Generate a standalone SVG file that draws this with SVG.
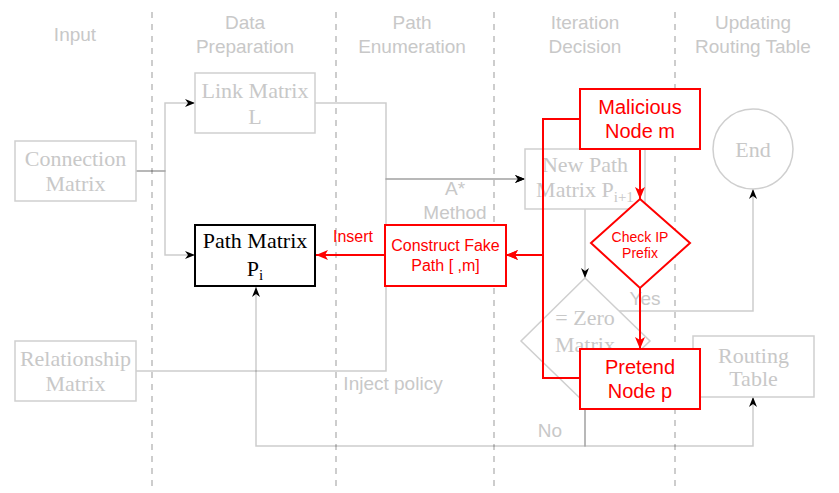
<svg xmlns="http://www.w3.org/2000/svg" width="839" height="493" viewBox="0 0 839 493">
<style>
.lane{stroke:#bdbdbd;stroke-width:1.5;stroke-dasharray:6 6;fill:none}
.hdr{font-family:"Liberation Sans",Arial,sans-serif;font-size:19px;fill:#c8c8c8;text-anchor:middle}
.gbox{fill:#fff;stroke:#cfcfcf;stroke-width:1.5}
.gtxt{font-family:"Liberation Serif","Times New Roman",serif;font-size:22px;fill:#c8c8c8;text-anchor:middle}
.btxt{font-family:"Liberation Serif","Times New Roman",serif;font-size:22px;fill:#000;text-anchor:middle}
.rbox{fill:#fff;stroke:#ff0000;stroke-width:2}
.rtxt{font-family:"Liberation Sans",Arial,sans-serif;fill:#ff0000;text-anchor:middle}
.gedge{fill:none;stroke:#000;stroke-opacity:0.2;stroke-width:1.5}
.redge{fill:none;stroke:#ff0000;stroke-width:2}
.glbl{font-family:"Liberation Sans",Arial,sans-serif;font-size:19px;fill:#c8c8c8;text-anchor:middle}
</style>
<defs>
<marker id="ga" viewBox="0 0 10 8" refX="10" refY="4" markerWidth="10" markerHeight="8" markerUnits="userSpaceOnUse" orient="auto">
<path d="M0,0 L10,4 L0,8 L3,4 z" fill="#000"/>
</marker>
<marker id="ra" viewBox="0 0 12 10" refX="12" refY="5" markerWidth="12" markerHeight="10" markerUnits="userSpaceOnUse" orient="auto">
<path d="M0,0 L12,5 L0,10 L3,5 z" fill="#ff0000"/>
</marker>
</defs>
<rect width="839" height="493" fill="#fff"/>
<g id="lanes">
<line class="lane" x1="152" y1="12" x2="152" y2="486"/>
<line class="lane" x1="336" y1="12" x2="336" y2="486"/>
<line class="lane" x1="494" y1="12" x2="494" y2="486"/>
<line class="lane" x1="675" y1="12" x2="675" y2="486"/>
<text class="hdr" x="75" y="41">Input</text>
<text class="hdr" x="245" y="29">Data</text>
<text class="hdr" x="245" y="53">Preparation</text>
<text class="hdr" x="412" y="29">Path</text>
<text class="hdr" x="412" y="53">Enumeration</text>
<text class="hdr" x="585" y="29">Iteration</text>
<text class="hdr" x="585" y="53">Decision</text>
<text class="hdr" x="753" y="29">Updating</text>
<text class="hdr" x="753" y="53">Routing Table</text>
</g>
<g id="connectors">
<path class="gedge" d="M136,171 H165 V103 H195" marker-end="url(#ga)"/>
<path class="gedge" d="M136,171 H165 V255 H195" marker-end="url(#ga)"/>
<path class="gedge" d="M315,103 H386 V179 H525" marker-end="url(#ga)"/>
<path class="gedge" d="M136,371 H386 V179 H525" marker-end="url(#ga)"/>
<path class="gedge" d="M585,209 V278" marker-end="url(#ga)"/>
<path class="gedge" d="M585,403 V446 H256 V287" marker-end="url(#ga)"/>
<path class="gedge" d="M585,403 V446 H753 V397" marker-end="url(#ga)"/>
<path class="gedge" d="M617,311 H753 V189" marker-end="url(#ga)"/>
<text class="glbl" x="455" y="195">A*</text>
<text class="glbl" x="455" y="219">Method</text>
<text class="glbl" x="393" y="390">Inject policy</text>
<text class="glbl" x="645" y="305">Yes</text>
<text class="glbl" x="550" y="437">No</text>
</g>
<g id="connection-matrix">
<rect class="gbox" x="15" y="141" width="121" height="60"/>
<text class="gtxt" x="75.5" y="166">Connection</text>
<text class="gtxt" x="75.5" y="191">Matrix</text>
</g>
<g id="relationship-matrix">
<rect class="gbox" x="15" y="341" width="121" height="60"/>
<text class="gtxt" x="75.5" y="366">Relationship</text>
<text class="gtxt" x="75.5" y="391">Matrix</text>
</g>
<g id="link-matrix">
<rect class="gbox" x="195" y="73" width="120" height="60"/>
<text class="gtxt" x="255" y="98">Link Matrix</text>
<text class="gtxt" x="255" y="124">L</text>
</g>
<g id="path-matrix">
<rect x="195" y="225" width="120" height="61" fill="#fff" stroke="#000" stroke-width="2"/>
<text class="btxt" x="255" y="248">Path Matrix</text>
<text class="btxt" x="255" y="276">P<tspan font-size="15" dy="4">i</tspan></text>
</g>
<g id="new-path-matrix">
<rect class="gbox" x="525" y="149" width="120" height="60"/>
<text class="gtxt" x="585" y="172">New Path</text>
<text class="gtxt" x="585" y="197">Matrix P<tspan font-size="15" dy="5">i+1</tspan></text>
</g>
<g id="zero-matrix">
<polygon class="gbox" points="585,278 650,341 585,403 521,341"/>
<text class="gtxt" x="585" y="325">= Zero</text>
<text class="gtxt" x="585" y="352">Matrix</text>
</g>
<g id="end">
<circle class="gbox" cx="753" cy="149" r="40"/>
<text class="gtxt" x="753" y="157">End</text>
</g>
<g id="routing-table">
<rect class="gbox" x="693" y="336" width="121" height="61"/>
<text class="gtxt" x="753.5" y="363">Routing</text>
<text class="gtxt" x="753.5" y="386">Table</text>
</g>
<g id="red-connectors">
<path class="redge" d="M640,149 V199" marker-end="url(#ra)"/>
<path class="redge" d="M640,288 V349" marker-end="url(#ra)"/>
<path class="redge" d="M580,119 H543 V255 H506" marker-end="url(#ra)"/>
<path class="redge" d="M580,378 H543 V255 H506" marker-end="url(#ra)"/>
<path class="redge" d="M385,255 H316" marker-end="url(#ra)"/>
<text class="rtxt" x="353" y="242" font-size="16">Insert</text>
</g>
<g id="malicious-node">
<rect class="rbox" x="580" y="89" width="120" height="60"/>
<text class="rtxt" x="640" y="114" font-size="20">Malicious</text>
<text class="rtxt" x="640" y="138" font-size="20">Node m</text>
</g>
<g id="check-ip-prefix">
<polygon class="rbox" points="640,199 690,243 640,288 591,243"/>
<text class="rtxt" x="640" y="242" font-size="14">Check IP</text>
<text class="rtxt" x="640" y="258" font-size="14">Prefix</text>
</g>
<g id="pretend-node">
<rect class="rbox" x="580" y="349" width="120" height="60"/>
<text class="rtxt" x="640" y="374" font-size="20">Pretend</text>
<text class="rtxt" x="640" y="398" font-size="20">Node p</text>
</g>
<g id="construct-fake-path">
<rect class="rbox" x="385" y="225" width="121" height="61"/>
<text class="rtxt" x="445.5" y="251" font-size="16">Construct Fake</text>
<text class="rtxt" x="445.5" y="271" font-size="16">Path [ ,m]</text>
</g>
</svg>
